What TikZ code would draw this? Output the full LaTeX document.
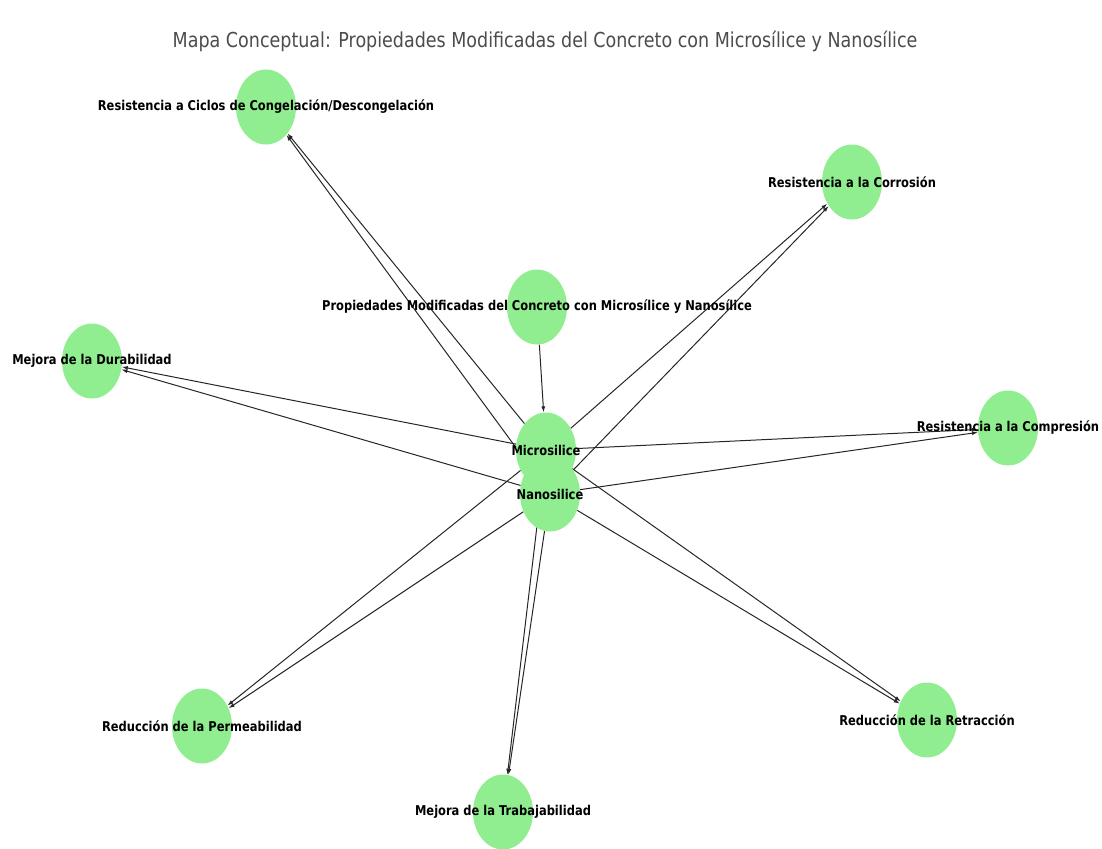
\documentclass[tikz,border=0pt]{standalone}
\usepackage{fontspec}
\newfontfamily\labfont[FakeStretch=0.85]{DejaVu Sans}
\usetikzlibrary{arrows.meta,shapes.geometric}
\definecolor{nodegreen}{HTML}{90EE90}
\pgfdeclarelayer{bg}
\pgfsetlayers{bg,main}
\begin{document}
\begin{tikzpicture}[x=1pt,y=-1pt,
  dot/.style={ellipse, fill=nodegreen, draw=none, minimum width=60pt, minimum height=75pt, inner sep=0pt},
  lab/.style={font=\labfont\bfseries\fontsize{13.5}{16}\selectfont, text=black, inner sep=0pt},
  ttl/.style={font=\labfont\fontsize{20.6}{24}\selectfont, text=black!70, inner sep=0pt},
  conn/.style={draw=black!85, line width=1pt, -{Latex[length=6pt,width=4pt]}}]
\useasboundingbox (0,0) rectangle (1102,848);
\node[ttl] (title) at (545,41) {Mapa Conceptual: Propiedades Modificadas del Concreto con Microsílice y Nanosílice};
\node[dot] (ciclos) at (266,107) {};
\node[dot] (corr) at (852,182) {};
\node[dot] (prop) at (537,307) {};
\node[dot] (dura) at (92,361) {};
\node[dot] (comp) at (1008,428) {};
\node[dot] (micro) at (546,450) {};
\node[dot] (nano) at (550,494) {};
\node[dot] (perm) at (202,726) {};
\node[dot] (retr) at (927,720) {};
\node[dot] (trab) at (503,812) {};
\begin{pgfonlayer}{bg}
\draw[conn] (prop) -- (micro);
\foreach \t in {ciclos,corr,dura,comp,perm,retr,trab}{
  \draw[conn] (micro) -- (\t);
  \draw[conn] (nano) -- (\t);
}
\end{pgfonlayer}
\node[lab] (ciclosL) at (ciclos) {Resistencia a Ciclos de Congelación/Descongelación};
\node[lab] (corrL) at (corr) {Resistencia a la Corrosión};
\node[lab] (propL) at (prop) {Propiedades Modificadas del Concreto con Microsílice y Nanosílice};
\node[lab] (duraL) at (dura) {Mejora de la Durabilidad};
\node[lab] (compL) at (comp) {Resistencia a la Compresión};
\node[lab] (microL) at (micro) {Microsilice};
\node[lab] (nanoL) at (nano) {Nanosilice};
\node[lab] (permL) at (perm) {Reducción de la Permeabilidad};
\node[lab] (retrL) at (retr) {Reducción de la Retracción};
\node[lab] (trabL) at (trab) {Mejora de la Trabajabilidad};
\end{tikzpicture}
\end{document}
